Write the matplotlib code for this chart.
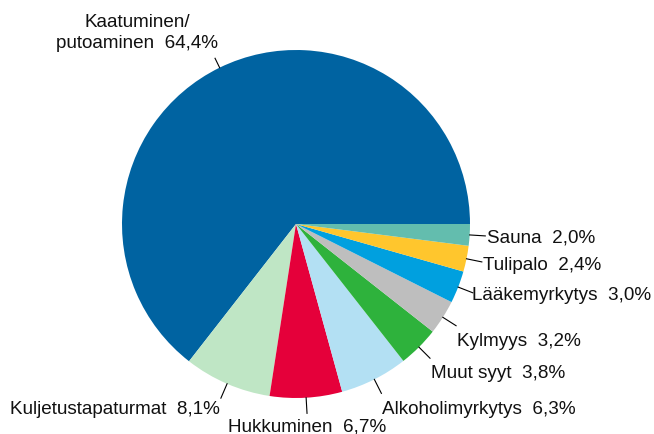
import numpy as np
import matplotlib.pyplot as plt

plt.rcParams['font.family'] = ['Liberation Sans', 'DejaVu Sans']

categories = ['Kaatuminen/\nputoaminen', 'Kuljetustapaturmat', 'Hukkuminen',
              'Alkoholimyrkytys', 'Muut syyt', 'Kylmyys', 'Lääkemyrkytys',
              'Tulipalo', 'Sauna']
shares = [64.4, 8.1, 6.7, 6.3, 3.8, 3.2, 3.0, 2.4, 2.0]
share_labels = ['64,4%', '8,1%', '6,7%', '6,3%', '3,8%', '3,2%', '3,0%', '2,4%', '2,0%']
colors = ['#0063a1', '#bfe6c5', '#e5003a', '#b3e0f3', '#2eb23c',
          '#bebebe', '#00a0df', '#ffc62d', '#63bdae']

# layout (pixels, y measured from the bottom of the figure)
cx, cy, rad = 296, 210, 174
text_pos = [(137, 401), (10, 24), (228, 7), (382, 25), (431, 61),
            (457, 93), (472, 138), (483, 169), (487, 196)]
text_ha = ['center', 'left', 'left', 'left', 'left', 'left', 'left', 'left', 'left']
r_out = [1.06, 1.09, 1.09, 1.09, 1.09, 1.09, 1.09, 1.09, 1.09]

fig = plt.figure(figsize=(6.54, 4.34), dpi=100)
ax = fig.add_axes([0, 0, 1, 1])
wedges, _ = ax.pie(shares, colors=colors, startangle=0, counterclock=True,
                   center=(cx, cy), radius=rad, normalize=True,
                   wedgeprops=dict(linewidth=0))

for i, w in enumerate(wedges):
    mid = np.deg2rad((w.theta1 + w.theta2) / 2)
    x0, y0 = cx + rad * np.cos(mid), cy + rad * np.sin(mid)
    x1, y1 = cx + rad * r_out[i] * np.cos(mid), cy + rad * r_out[i] * np.sin(mid)
    ax.plot([x0, x1], [y0, y1], color='black', linewidth=0.8)
    ax.text(text_pos[i][0], text_pos[i][1], categories[i] + '  ' + share_labels[i],
            ha=text_ha[i], va='center', fontsize=13.6, color='#111111',
            linespacing=1.3)

ax.set_xlim(0, 654)
ax.set_ylim(0, 434)
ax.set_aspect('equal')
ax.axis('off')

plt.savefig('out.png', dpi=100)
